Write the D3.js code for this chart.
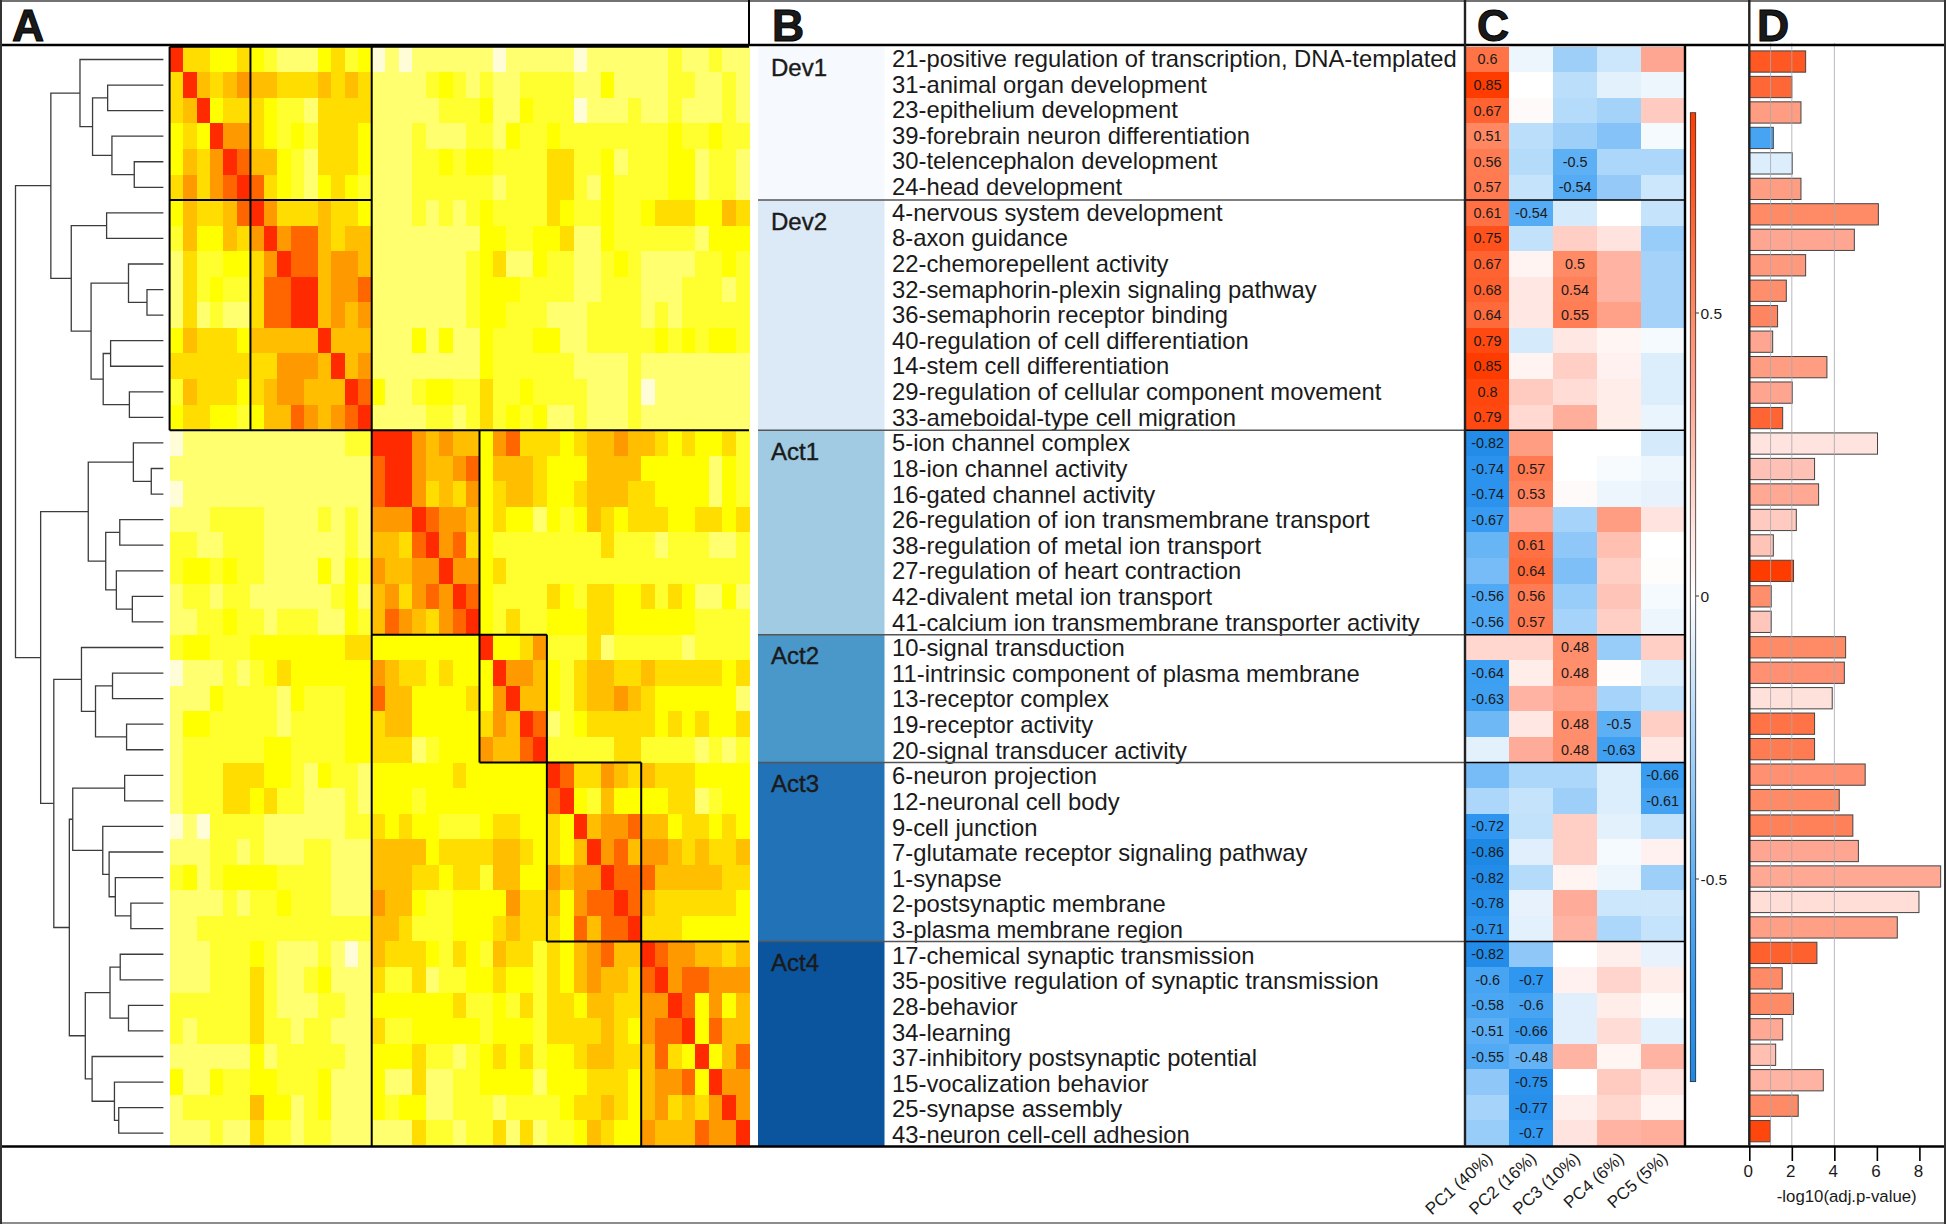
<!DOCTYPE html>
<html><head><meta charset="utf-8">
<style>html,body{margin:0;padding:0;background:#fff}svg{display:block}text{font-family:"Liberation Sans",Arial,sans-serif;fill:#1a1a1a}</style>
<script src="https://cdn.jsdelivr.net/npm/d3@7/dist/d3.min.js"></script>
</head><body><div id="c"></div>
<script>
const heatRows = [
"844334 321113423 01011111 10111 1101111 11211211",
"485456 554445454 11112321 21122 2211311 11221121",
"458344 432214444 11111222 31132 2201112 11211121",
"343866 432324443 11121112 21322 3222222 22322322",
"354687 553214443 11122323 32222 4422312 22331221",
"464678 743213432 11122222 21222 4421322 22331221",
"354457 864445443 11121212 32222 4322322 34443354",
"253354 686775455 11111111 33223 3411322 22221333",
"142233 468775665 11111112 34113 2211232 11112232",
"142322 477885667 11111112 33322 2211222 11122212",
"141211 477885656 11111112 33222 1112222 12122222",
"354443 555558555 11131311 32223 3112222 23232332",
"444444 446665856 11111111 32222 2211112 11111111",
"254443 456655587 31123322 42232 2221112 01111111",
"344332 355765678 11112212 42323 1121112 11111111",
"011111 111111122 88865655 36744 4345565 54343342",
"111111 111111111 78865567 35554 3335555 33333132",
"011111 111111111 78864546 34554 3345554 43333132",
"111222 211112121 66687665 34331 3235434 44334434",
"221122 211111121 55478674 32222 2222422 21222112",
"233232 211113132 65566866 34222 2222222 22222222",
"122122 111111231 56467687 32222 4324433 42431131",
"112232 212221132 57654678 32422 3334433 33332222",
"233222 333333344 33333333 83346 2224122 22212222",
"011121 234333333 65443433 38665 3245544 54444434",
"111322 221322233 75533334 36855 3245565 43333331",
"133222 221222233 45533333 46587 1234444 43434334",
"122222 233222233 44412333 65578 2222244 22221212",
"122244 433213221 33333343 33333 8744654 54443333",
"122244 342211121 33323333 33333 7832533 33441233",
"010222 211111122 43433222 34433 4385667 55344343",
"111221 211122111 55553444 45543 4358675 66545445",
"231233 332222111 55544344 25533 6566877 75555544",
"111121 223222111 65532233 33644 5367787 54444443",
"112222 222222222 55422233 34544 4375778 44433333",
"111222 321112101 54443243 25442 4356755 87665545",
"111222 421123111 42241223 34332 4356554 78677666",
"222222 421112211 33333342 23242 4435544 66873635",
"212222 422122111 42233333 23332 4444543 67783755",
"111111 312222211 33342212 34342 3345544 57438357",
"311322 332223111 31141122 33331 3334443 56673866",
"122222 533123111 32331122 21222 2344543 56454686",
"111211 422122111 11142212 24141 2235433 65557668"
];
// dendrogram: [height, childA, childB]; numbers at leaves are row numbers
const dendrogram = [100,
 [76.1,
  [56.4, 1, [47.9, [37.7,2,3], [34.8,4,[19.7,5,6]]]],
  [62.3, [38.4,7,8], [48.9, [23.6,9,[11.1,10,11]], [40.7,[35.7,12,13],[23.0,14,15]]]]],
 [83.0,
  [50.8, [20.3,16,[8.2,17,18]], [39.0,[29.5,19,20],[31.8,21,[21.0,22,23]]]],
  [74.1,
   [55.4,24,[45.9,[34.4,25,26],[24.9,27,28]]],
   [63.6,
    [61.3,[26.2,29,30],[41.0,31,[36.7,32,[32.5,33,[22.0,34,35]]]]],
    [52.8,[36.1,[29.2,36,37],[23.6,38,39]],[48.2,40,[33.1,41,[30.2,42,43]]]]]]]];
const terms = ["21-positive regulation of transcription, DNA-templated","31-animal organ development","23-epithelium development","39-forebrain neuron differentiation","30-telencephalon development","24-head development","4-nervous system development","8-axon guidance","22-chemorepellent activity","32-semaphorin-plexin signaling pathway","36-semaphorin receptor binding","40-regulation of cell differentiation","14-stem cell differentiation","29-regulation of cellular component movement","33-ameboidal-type cell migration","5-ion channel complex","18-ion channel activity","16-gated channel activity","26-regulation of ion transmembrane transport","38-regulation of metal ion transport","27-regulation of heart contraction","42-divalent metal ion transport","41-calcium ion transmembrane transporter activity","10-signal transduction","11-intrinsic component of plasma membrane","13-receptor complex","19-receptor activity","20-signal transducer activity","6-neuron projection","12-neuronal cell body","9-cell junction","7-glutamate receptor signaling pathway","1-synapse","2-postsynaptic membrane","3-plasma membrane region","17-chemical synaptic transmission","35-positive regulation of synaptic transmission","28-behavior","34-learning","37-inhibitory postsynaptic potential","15-vocalization behavior","25-synapse assembly","43-neuron cell-cell adhesion"];
const groupNames = ["Dev1","Dev2","Act1","Act2","Act3","Act4"];
const groupEnds = [6,15,23,28,35,43];
const pcLabels = ["PC1 (40%)","PC2 (16%)","PC3 (10%)","PC4 (6%)","PC5 (5%)"];
const loadings = [
[.6,-.05,-.3,-.15,.35],[.85,0,-.2,-.08,-.05],[.67,.02,-.22,-.28,.22],[.51,-.2,-.3,-.38,-.03],[.56,-.22,-.5,-.25,-.25],[.57,-.17,-.54,-.33,-.15],
[.61,-.54,-.12,0,-.17],[.75,-.18,.2,.12,-.32],[.67,.05,.5,.3,-.28],[.68,.1,.54,.3,-.28],[.64,.1,.55,.38,-.28],[.79,-.12,.1,.04,-.03],[.85,.05,.2,.06,-.1],[.8,.22,.15,.08,-.1],[.79,.16,.32,.08,-.06],
[-.82,.4,0,0,-.12],[-.74,.57,0,-.02,-.05],[-.74,.53,.02,-.05,-.07],[-.67,.36,-.27,.4,.12],[-.47,.61,-.35,.26,0],[-.42,.64,-.4,.2,.01],[-.56,.56,-.32,.24,-.03],[-.56,.57,-.27,.2,-.05],
[.17,.17,.48,-.32,.2],[-.64,.08,.48,.01,-.1],[-.63,.3,.38,-.27,-.18],[-.45,.1,.48,-.5,.2],[-.08,.33,.48,-.63,.1],
[-.42,-.25,-.25,-.1,-.66],[-.25,-.17,-.3,-.1,-.61],[-.72,-.18,.2,-.08,-.18],[-.86,-.09,.2,-.03,.06],[-.82,-.22,.05,-.05,-.3],[-.78,-.07,.33,-.15,-.14],[-.71,-.08,.3,-.25,-.17],
[-.82,-.35,0,.07,-.07],[-.6,-.7,.06,.18,.08],[-.58,-.6,-.09,.08,.02],[-.51,-.66,-.09,.15,-.08],[-.55,-.48,.3,.04,.3],[-.35,-.75,0,.22,.12],[-.27,-.77,.07,.17,.05],[-.32,-.7,.12,.3,.32]];
const pValues = [2.65,2.0,2.43,1.13,2.02,2.43,6.07,4.94,2.65,1.74,1.33,1.1,3.65,2.02,1.57,6.03,3.07,3.26,2.21,1.13,2.08,1.03,1.03,4.53,4.47,3.9,3.07,3.07,5.45,4.23,4.87,5.13,9.0,7.98,6.96,3.18,1.55,2.08,1.57,1.24,3.48,2.3,.99];
const barScores = [.72,.65,.4,-.6,-.1,.4,.5,.35,.42,.48,.52,.35,.4,.36,.66,.12,.25,.34,.22,.24,.85,.48,.23,.5,.46,.13,.6,.56,.46,.5,.54,.35,.34,.14,.39,.68,.5,.5,.34,.26,.3,.5,.8];
const pTicks = [0,2,4,6,8];
const pGrid = [1,2,4];
const barTicks = [-.5,0,.5];

const svg = d3.select("#c").append("svg").attr("width",1946).attr("height",1224);
const n = terms.length;
const idx = d3.range(n);
const yBand = d3.scaleBand().domain(idx).range([46.7,1146]);
const xHeat = d3.scaleBand().domain(idx).range([169.6,749]);
const yEdge = d3.scaleLinear().domain([0,n]).range([46.7,1146]);
const xEdge = d3.scaleLinear().domain([0,n]).range([169.6,749]);
const yTerm = d3.scaleLinear().domain([0,n-1]).range([67,1143]);
const heatColor = d3.scaleOrdinal().domain(d3.range(9)).range(["#fffdd8","#ffff70","#ffff30","#ffff00","#ffdd00","#ffbf00","#ff9900","#ff6600","#ff2a00"]);
const divColor = d3.scaleLinear()
  .domain([-1,-.86,-.7,-.5,-.35,-.2,-.1,0,.1,.2,.35,.5,.7,.85,1])
  .range(["#1565c0","#1e88e5","#2f97f0","#5eb0f5","#8fc7f8","#bbdefb","#dcedfb","#ffffff","#ffe8e4","#ffcfc6","#ffa692","#ff8a66","#ff5c28","#ff3c00","#ff2a00"]);

/* ---------- A heatmap ---------- */
const cells = heatRows.map(s=>s.replace(/ /g,"").split("").map(Number));
const gHeat = svg.append("g").attr("shape-rendering","crispEdges");
cells.forEach((row,r)=>gHeat.selectAll(null).data(row).join("rect")
  .attr("x",(d,c)=>xHeat(c)).attr("y",yBand(r)).attr("width",xHeat.bandwidth()+.5).attr("height",yBand.bandwidth()+.5)
  .attr("fill",d=>heatColor(d)));

/* dendrogram */
const xDen = d3.scaleLinear().domain([0,100]).range([163.4,15.5]);
const gDen = svg.append("g").attr("fill","none").attr("stroke","#3c3c3c").attr("stroke-width",1.3);
function layout(node){
  if(typeof node==="number") return {y:yBand(node-1)+yBand.bandwidth()/2,h:0};
  const a=layout(node[1]), b=layout(node[2]), y=(a.y+b.y)/2;
  gDen.append("path").attr("d",d3.line()([[xDen(a.h),a.y],[xDen(node[0]),a.y],[xDen(node[0]),b.y],[xDen(b.h),b.y]]));
  return {y,h:node[0]};
}
layout(dendrogram);

/* block outlines, expressed in cell indexes */
const hSegs=[[0,0,43],[6,0,15],[15,0,43],[23,15,28],[28,23,35],[35,28,43]];
const vSegs=[[0,0,15],[6,0,15],[15,0,43],[23,15,28],[28,23,35],[35,28,43]];
const gBox = svg.append("g").attr("stroke","#000").attr("stroke-width",2);
gBox.selectAll(null).data(hSegs).join("line").attr("x1",d=>xEdge(d[1])).attr("x2",d=>xEdge(d[2])).attr("y1",d=>yEdge(d[0])).attr("y2",d=>yEdge(d[0]));
gBox.selectAll(null).data(vSegs).join("line").attr("y1",d=>yEdge(d[1])).attr("y2",d=>yEdge(d[2])).attr("x1",d=>xEdge(d[0])).attr("x2",d=>xEdge(d[0]));

/* ---------- B terms ---------- */
const groupColor = d3.scaleOrdinal().domain(groupNames).range(["#f6fafe","#dce9f6","#a0cbe2","#4a97c9","#2272b8","#0b559f"]);
const gB = svg.append("g");
groupNames.forEach((g,i)=>{
  const s=i?groupEnds[i-1]:0, e=groupEnds[i];
  gB.append("rect").attr("x",758).attr("y",yEdge(s)).attr("width",126.5).attr("height",yEdge(e)-yEdge(s)).attr("fill",groupColor(g));
  gB.append("text").attr("x",771).attr("y",yEdge(s)+29.5).attr("font-size",24).attr("stroke","#1a1a1a").attr("stroke-width",.4).text(g);
});
gB.selectAll(null).data(terms).join("text").attr("x",892).attr("y",(d,i)=>yTerm(i))
  .attr("font-size",23.8).text(d=>d);
gB.selectAll(null).data(groupEnds.slice(0,5)).join("line").attr("x1",758).attr("x2",1465).attr("y1",d=>yEdge(d)).attr("y2",d=>yEdge(d)).attr("stroke","#555").attr("stroke-width",1.5);

/* ---------- C loadings ---------- */
const xPC = d3.scaleBand().domain(pcLabels).range([1465.7,1684.5]);
const gC = svg.append("g");
loadings.forEach((row,r)=>{
  gC.selectAll(null).data(row).join("rect").attr("shape-rendering","crispEdges")
    .attr("x",(d,c)=>xPC(pcLabels[c])).attr("y",yBand(r)).attr("width",xPC.bandwidth()+.5).attr("height",yBand.bandwidth()+.5)
    .attr("fill",d=>divColor(d));
  gC.selectAll(null).data(row.map((v,c)=>({v,c})).filter(d=>Math.abs(d.v)>=.48)).join("text")
    .attr("x",d=>xPC(pcLabels[d.c])+xPC.bandwidth()/2).attr("y",yBand(r)+yBand.bandwidth()/2+5)
    .attr("text-anchor","middle").attr("font-size",14.4).text(d=>String(d.v));
});
gC.selectAll(null).data(groupEnds.slice(0,5)).join("line").attr("x1",1465).attr("x2",1685).attr("y1",d=>yEdge(d)).attr("y2",d=>yEdge(d)).attr("stroke","#000").attr("stroke-width",1.5);
gC.selectAll(null).data(pcLabels).join("text")
  .attr("text-anchor","end").attr("font-size",17).attr("fill","#000")
  .attr("transform",d=>`translate(${xPC(d)+xPC.bandwidth()/2+6},${1160}) rotate(-42)`).text(d=>d);

/* colour bar */
const yBar = d3.scaleLinear().domain([-.5,.5]).range([879,313]);
const barSteps = d3.range(-.858,.854,.004);
const gBar = svg.append("g");
gBar.selectAll(null).data(barSteps).join("rect").attr("shape-rendering","crispEdges")
  .attr("x",1690.3).attr("width",5.4).attr("y",d=>yBar(d+.004)).attr("height",d=>yBar(d)-yBar(d+.004)+.5).attr("fill",d=>divColor(d));
gBar.append("rect").attr("x",1690.3).attr("width",5.4).attr("y",yBar(.854)).attr("height",yBar(-.858)-yBar(.854)).attr("fill","none").attr("stroke","#333").attr("stroke-width",.8);
gBar.selectAll(null).data(barTicks).join("line").attr("x1",1695.7).attr("x2",1699).attr("y1",d=>yBar(d)).attr("y2",d=>yBar(d)).attr("stroke","#333");
gBar.selectAll(null).data(barTicks).join("text").attr("x",1700.5).attr("y",d=>yBar(d)+5.5).attr("font-size",15.5).text(d=>String(d));

/* ---------- D bars ---------- */
const xP = d3.scaleLinear().domain([0,8]).range([1749.3,1919.4]);
const yBars = d3.scaleBand().domain(idx).range([46.7,1146]).padding(.165);
const gD = svg.append("g");
gD.selectAll(null).data(pValues).join("rect").attr("x",xP(0)).attr("y",(d,i)=>yBars(i)).attr("height",yBars.bandwidth())
  .attr("width",d=>xP(d)-xP(0)).attr("fill",(d,i)=>divColor(barScores[i])).attr("stroke","#444").attr("stroke-width",1);
gD.selectAll(null).data(pGrid).join("line").attr("x1",d=>xP(d)).attr("x2",d=>xP(d)).attr("y1",43).attr("y2",1146).attr("stroke","#a8a8b0").attr("stroke-width",1).attr("opacity",.8);
const axis = svg.append("g").attr("transform","translate(0,1146)").call(d3.axisBottom(xP).tickValues(pTicks).tickSize(15).tickPadding(4).tickFormat(d3.format("d")));
axis.select(".domain").remove();
axis.selectAll("line").attr("stroke","#000").attr("stroke-width",1.6);
axis.selectAll("text").attr("font-size",17).attr("dx",-1.5).attr("font-family",'"Liberation Sans",Arial,sans-serif').attr("fill","#000");
svg.append("text").attr("x",1846.7).attr("y",1202).attr("text-anchor","middle").attr("font-size",16.8).attr("fill","#000").text("-log10(adj.p-value)");

/* ---------- frame ---------- */
const gF = svg.append("g");
const frame = [[0,1,1946,1,"#444",1.5],[0,45,1946,45,"#000",2.4],[0,1146.5,1946,1146.5,"#000",2.4],[0,1223,1946,1223,"#666",1.5],
 [1,0,1,1224,"#333",2],[749,0,749,46,"#000",2],[1465,0,1465,1146,"#222",2.4],[1685,46,1685,1146,"#000",2.4],[1749.3,0,1749.3,1146,"#222",2.4],[1945,0,1945,1224,"#333",2]];
gF.selectAll(null).data(frame).join("line").attr("x1",d=>d[0]).attr("y1",d=>d[1]).attr("x2",d=>d[2]).attr("y2",d=>d[3]).attr("stroke",d=>d[4]).attr("stroke-width",d=>d[5]);
const panels=[["A",12],["B",772],["C",1477],["D",1757]];
gF.selectAll(null).data(panels).join("text").attr("x",d=>d[1]).attr("y",41).attr("font-size",44.5).attr("font-weight","bold").attr("fill","#000").attr("stroke","#000").attr("stroke-width",1).text(d=>d[0]);
</script></body></html>
